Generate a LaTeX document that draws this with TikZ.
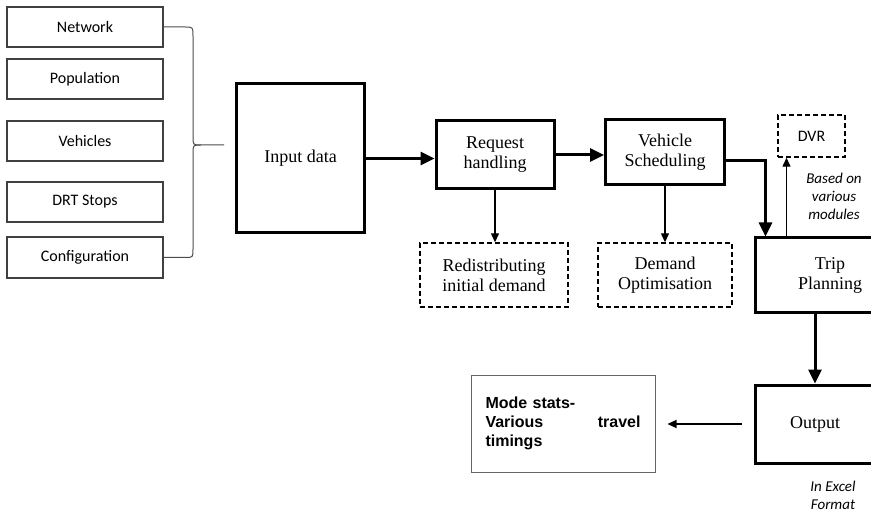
\documentclass[tikz,border=0pt]{standalone}
\usepackage{fontspec}
\setmainfont{Liberation Serif}
\newfontfamily\calib{Carlito}
\newfontfamily\arialf{Liberation Sans}
\usetikzlibrary{arrows.meta}

\tikzset{
  inbox/.style={draw=black!75, line width=1.2pt, minimum width=156pt, minimum height=40pt, font=\calib\fontsize{16}{19}\selectfont},
  stage/.style={draw, line width=3pt, align=center, font=\fontsize{18}{20}\selectfont},
  extra/.style={draw, line width=1.4pt, dash pattern=on 5pt off 3pt, align=center, font=\fontsize{18}{20}\selectfont},
  note/.style={align=center, font=\calib\itshape\fontsize{15}{18}\selectfont},
  bigarr/.style={line width=3pt, -{Triangle[length=14pt,width=13pt]}},
  smallarr/.style={line width=1.3pt, -{Triangle[length=9pt,width=8pt]}}
}

\begin{document}
\begin{tikzpicture}[x=1pt,y=-1pt]
                \useasboundingbox (0,0) rectangle (871,513);
                \clip (0,0) rectangle (871,513);
                % input files
                \node (net) [inbox] at (85,27) {Network};
                \node (pop) [inbox] at (85,79) {Population};
                \node (veh) [inbox] at (85,141) {Vehicles};
                \node (drt) [inbox] at (85,202) {DRT Stops};
                \node (cfg) [inbox, minimum height=41pt] at (85,257.5) {Configuration};
                \draw [line width=1pt, black!70] (net.east)--(185,27) .. controls (193,27) .. (193,36)--(193,137) .. controls (193,145) .. (201,145)--(224,145);
                \draw [line width=1pt, black!70] (cfg.east)--(185,257.5) .. controls (193,257.5) .. (193,249)--(193,153) .. controls (193,145) .. (201,145);
                % main stages
                \node (input) [stage, minimum width=128pt, minimum height=149pt] at (300.5,158.5) {Input data};
                \node (req) [stage, minimum width=118pt, minimum height=68pt] at (495,155) {Request\\handling};
                \node (vsch) [stage, minimum width=119pt, minimum height=65pt] at (665,152.5) {Vehicle\\Scheduling};
                \node (trip) [stage, minimum width=150pt, minimum height=75pt] at (830,275.5) {Trip\\Planning};
                \node (out) [stage, minimum width=120pt, minimum height=78pt] at (815,424) {Output};
                % side modules
                \node (redis) [extra, minimum width=148pt, minimum height=64pt] at (494,275) {Redistributing\\initial demand};
                \node (dopt) [extra, minimum width=134pt, minimum height=64pt] at (665,275) {Demand\\Optimisation};
                \node (dvr) [extra, minimum width=67pt, minimum height=42pt, font=\calib\fontsize{16}{19}\selectfont] at (811.5,136) {DVR};
                \node (stats) [draw=black!60, line width=1pt, minimum width=184pt, minimum height=97pt, text width=155pt, align=left, font=\arialf\bfseries\fontsize{16}{19}\selectfont] at (563,423.5) {Mode stats-\\Various\hfill travel\\timings};
                % notes
                \node (basedon) [note] at (834,196) {Based on\\various\\modules};
                \node (excel) [note] at (833,495.5) {In Excel\\Format};
                % arrows
                \draw [bigarr] (input.east)--(input.east -| req.west);
                \draw [bigarr] (req.east)--(req.east -| vsch.west);
                \draw [bigarr] ([yshift=-8pt]vsch.east) -| ([xshift=12pt]trip.north west);
                \coordinate (dn) at (out.north |- trip.south);
                \draw [bigarr] (dn)--(out.north);
                \draw [smallarr] (req.south)--(req.south |- redis.north);
                \draw [smallarr] (vsch.south)--(dopt.north);
                \coordinate (up) at ([xshift=33pt]trip.north west);
                \draw [smallarr] (up)--(up |- dvr.south);
                \draw [smallarr, shorten <=12pt, shorten >=12pt] (out.west)--(out.west -| stats.east);
                \end{tikzpicture}
\end{document}
